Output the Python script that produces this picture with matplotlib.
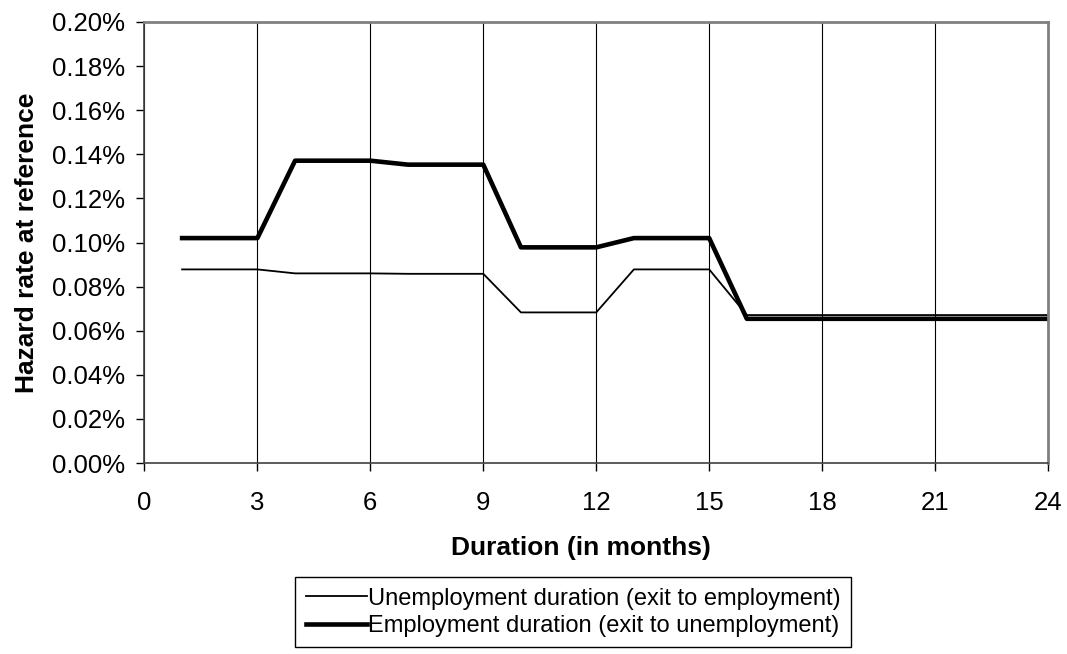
import numpy as np
import matplotlib.pyplot as plt
from matplotlib.ticker import FuncFormatter

plt.rcParams['font.family'] = ['Liberation Sans', 'DejaVu Sans']

months = np.arange(1, 25)
# hazard rates in percent
unemp = [0.0878, 0.0878, 0.0878, 0.0860, 0.0860, 0.0860, 0.0858, 0.0858, 0.0858,
         0.0683, 0.0683, 0.0683, 0.0878, 0.0878, 0.0878] + [0.0671] * 9
emp = [0.1020, 0.1020, 0.1020, 0.1371, 0.1371, 0.1371, 0.1353, 0.1353, 0.1353,
       0.0978, 0.0978, 0.0978, 0.1020, 0.1020, 0.1020] + [0.0654] * 9

fig = plt.figure(figsize=(10.67, 6.54), dpi=100)
ax = fig.add_axes([0.1354, 0.2920, 0.9822 - 0.1354, 0.9664 - 0.2920])

ax.plot(months, unemp, color='black', lw=1.3,
        label='Unemployment duration (exit to employment)')
ax.plot(months, emp, color='black', lw=3.3,
        label='Employment duration (exit to unemployment)')

ax.set_xlim(0, 24)
ax.set_ylim(0, 0.20)
ax.set_xticks(np.arange(0, 25, 3))
ax.set_yticks(np.arange(0, 0.201, 0.02))
ax.yaxis.set_major_formatter(FuncFormatter(lambda v, p: '%.2f%%' % v))
ax.grid(axis='x', color='black', lw=0.8)
ax.set_axisbelow(True)

for s in ['top', 'right']:
    ax.spines[s].set_color('#808080')
    ax.spines[s].set_linewidth(2)
for s in ['left', 'bottom']:
    ax.spines[s].set_color('#404040')
    ax.spines[s].set_linewidth(1.2)

ax.tick_params(labelsize=18.5, length=6, width=1, direction='out')
ax.tick_params(axis='x', pad=14)
ax.tick_params(axis='y', pad=8)
ax.set_xlabel('Duration (in months)', fontsize=19, fontweight='bold', labelpad=14)
ax.xaxis.set_label_coords(0.483, -0.165)
ax.set_ylabel('Hazard rate at reference', fontsize=19, fontweight='bold', labelpad=9)

leg = fig.legend(loc='upper left', bbox_to_anchor=(0.2765, 0.1177), fontsize=17,
                 handlelength=2.6, handletextpad=0.05, borderpad=0.45,
                 borderaxespad=0, labelspacing=0.22, fancybox=False,
                 framealpha=1, edgecolor='black')
leg.get_frame().set_linewidth(1)

fig.savefig('out.png', dpi=100)
